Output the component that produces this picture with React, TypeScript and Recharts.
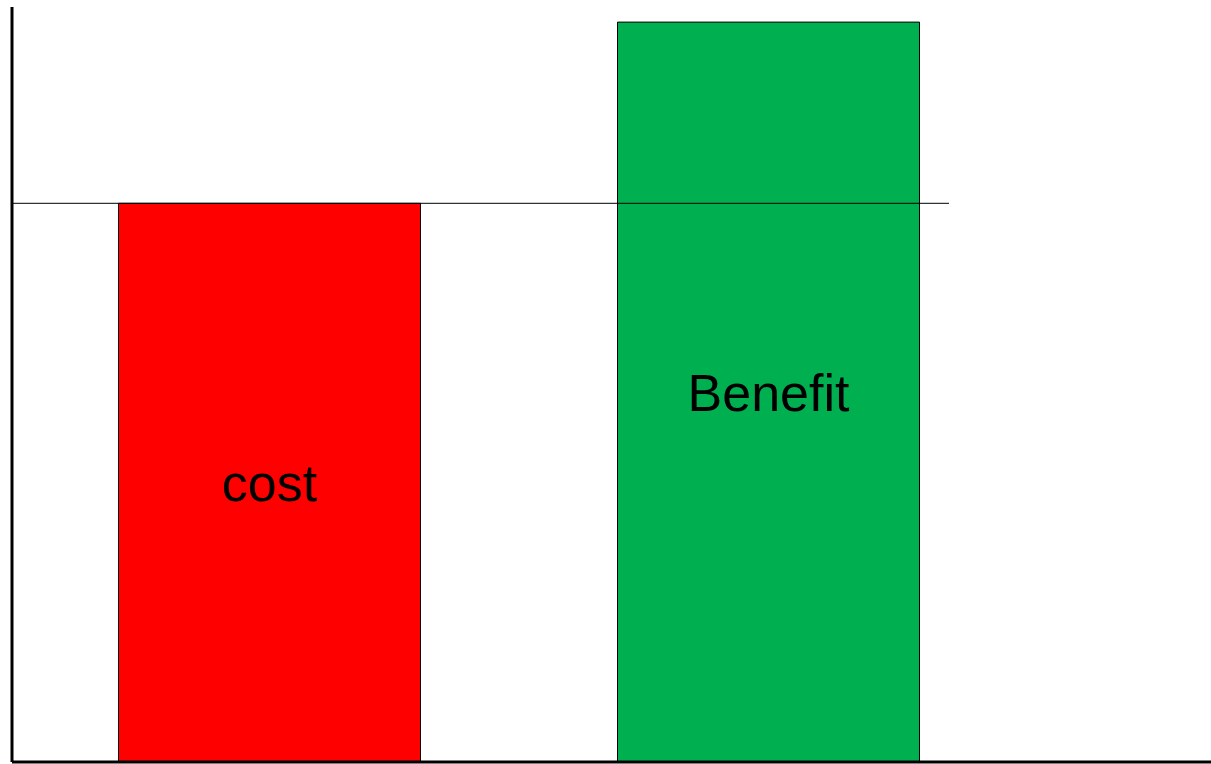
import { BarChart, Bar, XAxis, YAxis, Cell, LabelList, ReferenceLine } from 'recharts';

const categories = ['cost', 'Benefit'];
const values = [74, 98];
const colors = ['#ff0000', '#00b050'];

// level the comparison line sits at (top of the cost bar)
const costLevel = values[0];
// how far across the plot the comparison line runs
const lineExtent = 0.7815;

const data = categories.map((name, i) => ({ name, value: values[i] }));

export default function App() {
  return (
    <div style={{ position: 'absolute', left: 0, top: 0, width: 1211, height: 764, background: '#fff' }}>
      <BarChart
        width={1211}
        height={764}
        data={data}
        margin={{ top: 7, right: 0, left: 10, bottom: 0 }}
      >
        <XAxis
          dataKey="name"
          height={2}
          tick={false}
          tickLine={false}
          axisLine={{ stroke: '#000', strokeWidth: 3 }}
          padding={{ left: 7.5, right: 193.5 }}
        />
        <XAxis xAxisId="ref" type="number" domain={[0, 1]} hide />
        <YAxis
          width={2}
          domain={[0, 100]}
          tick={false}
          tickLine={false}
          axisLine={{ stroke: '#000', strokeWidth: 3 }}
        />
        <Bar dataKey="value" barSize={302} stroke="#000" strokeWidth={1} isAnimationActive={false}>
          {data.map((d, i) => (
            <Cell key={d.name} fill={colors[i]} />
          ))}
          <LabelList
            dataKey="name"
            position="center"
            fill="#000"
            fontSize={52}
            fontFamily="'Liberation Sans', Arial, sans-serif"
          />
        </Bar>
        <ReferenceLine
          xAxisId="ref"
          segment={[
            { x: 0, y: costLevel },
            { x: lineExtent, y: costLevel },
          ]}
          stroke="#000"
          strokeWidth={1}
        />
      </BarChart>
    </div>
  );
}
